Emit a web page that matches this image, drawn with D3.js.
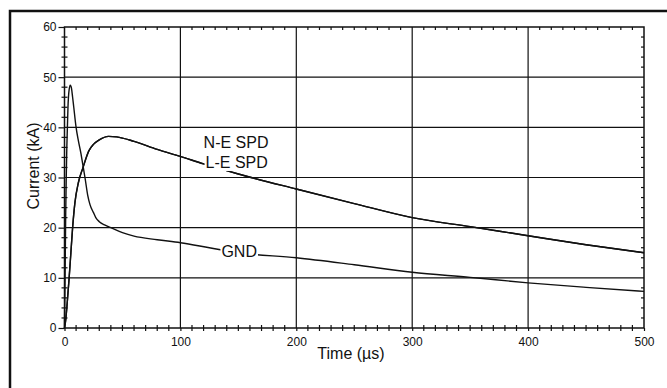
<!DOCTYPE html>
<html><head><meta charset="utf-8">
<script src="https://cdn.jsdelivr.net/npm/d3@7"></script>
<style>
html,body{margin:0;padding:0;background:#fff;}
svg{display:block;}
</style></head><body>
<svg id="chart" width="667" height="388"></svg>
<script>
// ---- data ----
const timeGND    = [0, 0.5, 1, 1.5, 2, 2.5, 3, 4, 5, 6, 7, 8, 10, 12, 14, 16, 18, 20, 22, 25, 27, 30, 35, 40, 50, 60, 80, 100, 125, 150, 200, 250, 300, 350, 400, 450, 500];
const currentGND = [0, 10, 22, 30, 36, 40, 44, 47.5, 48.4, 47.8, 46, 44, 40, 37.3, 35, 32.3, 29.5, 26.5, 24.6, 23, 22, 21.2, 20.5, 20.0, 19.0, 18.3, 17.6, 17.0, 16.0, 15.0, 14.0, 12.6, 11.1, 10.1, 9.0, 8.1, 7.3];
const timeSPD    = [0, 1, 2, 3, 4, 5.5, 7, 9, 12, 16, 21, 25, 30, 38, 45, 60, 80, 100, 120, 150, 200, 250, 300, 350, 400, 450, 500];
const currentNE  = [0, 1.5, 4, 7, 10, 15, 20, 25, 29, 32, 35.3, 36.6, 37.5, 38.2, 38.1, 37.2, 35.6, 34.2, 32.7, 30.7, 27.7, 24.8, 22.0, 20.2, 18.4, 16.6, 15.0];
const currentLE  = [0, 1.5, 4, 7, 10, 15, 20, 25, 29, 32, 35.3, 36.6, 37.5, 38.2, 38.1, 37.2, 35.6, 34.2, 32.7, 30.7, 27.7, 24.8, 22.0, 20.2, 18.4, 16.6, 15.0];
const xTicks = [0, 100, 200, 300, 400, 500];
const yTicks = [0, 10, 20, 30, 40, 50, 60];
const xLabel = "Time (\u00b5s)";
const yLabel = "Current (kA)";
const labelText  = ["N-E SPD", "L-E SPD", "GND"];
const labelTime  = [120, 121.7, 135.4];
const labelValue = [35.9, 31.9, 14.2];

// ---- layout ----
const svg = d3.select("#chart");
const x = d3.scaleLinear().domain([0, 500]).range([64.5, 644]);
const y = d3.scaleLinear().domain([0, 60]).range([328, 27]);
const ink = "#111";

// outer frame (open on right/bottom, cropped)
svg.append("path").attr("d", "M10,388V11H667").attr("fill", "none")
  .attr("stroke", ink).attr("stroke-width", 2.5);

// gridlines
const grid = svg.append("g").attr("stroke", ink).attr("stroke-width", 1.2);
grid.selectAll(".vg").data(xTicks.slice(1, -1)).join("line")
  .attr("x1", d => x(d)).attr("x2", d => x(d)).attr("y1", y(0)).attr("y2", y(60));
grid.selectAll(".hg").data(yTicks.slice(1, -1)).join("line")
  .attr("y1", d => y(d)).attr("y2", d => y(d)).attr("x1", x(0)).attr("x2", x(500));

// plot frame
svg.append("rect").attr("x", x(0)).attr("y", y(60))
  .attr("width", x(500) - x(0)).attr("height", y(0) - y(60))
  .attr("fill", "none").attr("stroke", ink).attr("stroke-width", 1.5);

// minor ticks
const minorX = d3.range(0, 501, 10).filter(d => d % 100 !== 0);
const minorY = d3.range(0, 61, 2).filter(d => d % 10 !== 0);
const mt = svg.append("g").attr("stroke", ink).attr("stroke-width", 1.2);
mt.selectAll(".bx").data(minorX).join("line")
  .attr("x1", d => x(d)).attr("x2", d => x(d)).attr("y1", y(0) - 3).attr("y2", y(0) + 3);
mt.selectAll(".tx").data(minorX).join("line")
  .attr("x1", d => x(d)).attr("x2", d => x(d)).attr("y1", y(60)).attr("y2", y(60) + 3);
mt.selectAll(".ly").data(minorY).join("line")
  .attr("y1", d => y(d)).attr("y2", d => y(d)).attr("x1", x(0) - 3).attr("x2", x(0) + 3);
mt.selectAll(".ry").data(minorY).join("line")
  .attr("y1", d => y(d)).attr("y2", d => y(d)).attr("x1", x(500) - 3).attr("x2", x(500));

// axes (major ticks + labels)
const tickFont = "'Liberation Sans Narrow','Arial Narrow','Liberation Sans',sans-serif";
const xAxis = svg.append("g").attr("transform", `translate(0,${y(0)})`)
  .call(d3.axisBottom(x).tickValues(xTicks).tickSizeInner(3).tickSizeOuter(0).tickPadding(6));
const yAxis = svg.append("g").attr("transform", `translate(${x(0)},0)`)
  .call(d3.axisLeft(y).tickValues(yTicks).tickSizeInner(6).tickSizeOuter(0).tickPadding(2));
[xAxis, yAxis].forEach(g => {
  g.select(".domain").remove();
  g.selectAll("line").attr("stroke", ink).attr("stroke-width", 1.2);
  g.selectAll("text").attr("fill", ink).attr("font-family", tickFont).attr("font-size", 12);
});

// curves
const line = d3.line().curve(d3.curveMonotoneX).x(d => x(d[0])).y(d => y(d[1]));
const series = [
  d3.zip(timeGND, currentGND),
  d3.zip(timeSPD, currentNE),
  d3.zip(timeSPD, currentLE)
];
svg.append("g").selectAll("path").data(series).join("path")
  .attr("d", line).attr("fill", "none").attr("stroke", ink).attr("stroke-width", 1.4);

// curve labels with white background
const font = "'Liberation Sans',Arial,sans-serif";
labelText.forEach((t, i) => {
  const g = svg.append("g");
  const txt = g.append("text").attr("x", x(labelTime[i])).attr("y", y(labelValue[i]))
    .attr("font-family", font).attr("font-size", 16).attr("fill", ink).text(t);
  const b = txt.node().getBBox();
  g.insert("rect", "text").attr("x", b.x - 1).attr("y", b.y + 1)
    .attr("width", b.width + 2).attr("height", b.height - 1).attr("fill", "#fff");
});

// axis titles
svg.append("text").attr("x", 351).attr("y", 359).attr("text-anchor", "middle")
  .attr("font-family", font).attr("font-size", 16).attr("fill", ink).text(xLabel);
svg.append("text").attr("transform", "translate(38.5,166) rotate(-90)").attr("text-anchor", "middle")
  .attr("font-family", font).attr("font-size", 16).attr("fill", ink).text(yLabel);
</script>
</body></html>
